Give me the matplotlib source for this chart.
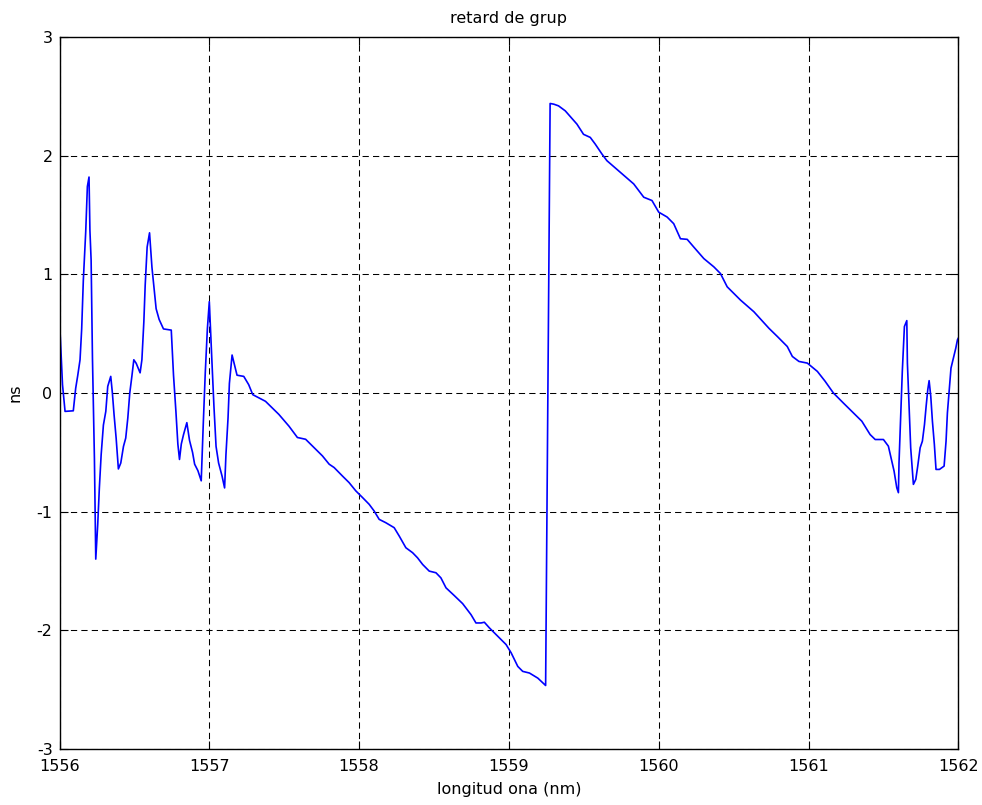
import matplotlib
matplotlib.use("Agg")
import matplotlib.pyplot as plt

# wavelength (nm) and group delay (ns)
wavelength_nm = [
    1556.000, 1556.010, 1556.020, 1556.037, 1556.092, 1556.108, 1556.122, 1556.137,
    1556.148, 1556.159, 1556.175, 1556.186, 1556.197, 1556.203, 1556.211, 1556.220,
    1556.233, 1556.242, 1556.255, 1556.266, 1556.278, 1556.293, 1556.309, 1556.322,
    1556.342, 1556.353, 1556.364, 1556.378, 1556.393, 1556.409, 1556.427, 1556.442,
    1556.456, 1556.469, 1556.483, 1556.496, 1556.512, 1556.538, 1556.550, 1556.563,
    1556.572, 1556.585, 1556.601, 1556.617, 1556.632, 1556.645, 1556.665, 1556.694,
    1556.746, 1556.761, 1556.777, 1556.790, 1556.801, 1556.813, 1556.828, 1556.850,
    1556.868, 1556.888, 1556.902, 1556.924, 1556.946, 1556.960, 1556.973, 1556.987,
    1557.000, 1557.007, 1557.018, 1557.031, 1557.045, 1557.062, 1557.085, 1557.102,
    1557.111, 1557.125, 1557.134, 1557.152, 1557.185, 1557.230, 1557.263, 1557.290,
    1557.375, 1557.464, 1557.532, 1557.588, 1557.643, 1557.699, 1557.755, 1557.800,
    1557.833, 1557.889, 1557.933, 1557.978, 1558.022, 1558.067, 1558.100, 1558.134,
    1558.178, 1558.234, 1558.268, 1558.312, 1558.357, 1558.390, 1558.424, 1558.468,
    1558.513, 1558.546, 1558.580, 1558.635, 1558.691, 1558.747, 1558.780, 1558.814,
    1558.836, 1558.870, 1558.925, 1558.981, 1559.015, 1559.059, 1559.092, 1559.137,
    1559.193, 1559.245, 1559.275, 1559.300, 1559.331, 1559.376, 1559.454, 1559.498,
    1559.543, 1559.576, 1559.621, 1559.654, 1559.744, 1559.833, 1559.900, 1559.955,
    1560.000, 1560.056, 1560.100, 1560.145, 1560.190, 1560.234, 1560.301, 1560.368,
    1560.412, 1560.457, 1560.546, 1560.635, 1560.736, 1560.792, 1560.858, 1560.892,
    1560.936, 1560.992, 1561.059, 1561.110, 1561.166, 1561.233, 1561.300, 1561.356,
    1561.411, 1561.445, 1561.500, 1561.533, 1561.556, 1561.571, 1561.589, 1561.600,
    1561.604, 1561.615, 1561.626, 1561.640, 1561.656, 1561.660, 1561.671, 1561.682,
    1561.700, 1561.716, 1561.729, 1561.745, 1561.760, 1561.774, 1561.785, 1561.796,
    1561.805, 1561.816, 1561.827, 1561.840, 1561.851, 1561.874, 1561.905, 1561.918,
    1561.927, 1561.940, 1561.951, 1561.967, 1561.983, 1561.994, 1562.000,
]
delay_ns = [
    0.62, 0.34, 0.07, -0.155, -0.15, 0.04, 0.15, 0.28,
    0.54, 0.95, 1.36, 1.74, 1.82, 1.37, 1.12, 0.29,
    -0.55, -1.40, -1.11, -0.80, -0.52, -0.27, -0.155, 0.056,
    0.14, 0.0, -0.18, -0.38, -0.64, -0.59, -0.45, -0.38,
    -0.21, 0.0, 0.14, 0.28, 0.25, 0.17, 0.28, 0.60,
    0.91, 1.23, 1.35, 1.06, 0.87, 0.71, 0.62, 0.54,
    0.53, 0.15, -0.155, -0.43, -0.56, -0.43, -0.35, -0.25,
    -0.40, -0.50, -0.60, -0.655, -0.74, -0.25, 0.17, 0.54,
    0.77, 0.56, 0.25, -0.115, -0.45, -0.59, -0.70, -0.80,
    -0.52, -0.21, 0.08, 0.32, 0.15, 0.14, 0.07, -0.014,
    -0.07, -0.18, -0.28, -0.375, -0.39, -0.46, -0.53, -0.60,
    -0.628, -0.70, -0.755, -0.825, -0.88, -0.938, -0.994, -1.065,
    -1.093, -1.135, -1.206, -1.304, -1.346, -1.389, -1.445, -1.501,
    -1.515, -1.558, -1.642, -1.707, -1.775, -1.868, -1.938, -1.938,
    -1.932, -1.98, -2.05, -2.12, -2.19, -2.304, -2.346, -2.36,
    -2.403, -2.465, 2.44, 2.434, 2.42, 2.378, 2.266, 2.18,
    2.154, 2.098, 2.014, 1.958, 1.86, 1.762, 1.65, 1.622,
    1.524, 1.483, 1.427, 1.30, 1.295, 1.23, 1.133, 1.063,
    1.007, 0.895, 0.783, 0.685, 0.545, 0.476, 0.392, 0.308,
    0.266, 0.252, 0.182, 0.10, 0.0, -0.085, -0.168, -0.238,
    -0.35, -0.392, -0.392, -0.448, -0.574, -0.658, -0.798, -0.84,
    -0.588, -0.196, 0.182, 0.56, 0.61, 0.252, -0.098, -0.462,
    -0.77, -0.728, -0.616, -0.462, -0.406, -0.266, -0.112, 0.028,
    0.104, -0.028, -0.238, -0.434, -0.644, -0.644, -0.616, -0.406,
    -0.168, 0.042, 0.21, 0.294, 0.378, 0.448, 0.462,
]

x_ticks = [1556, 1557, 1558, 1559, 1560, 1561, 1562]
y_ticks = [-3, -2, -1, 0, 1, 2, 3]

plt.rcParams['font.family'] = 'DejaVu Sans'
plt.rcParams['font.size'] = 11.5
plt.rcParams['axes.unicode_minus'] = False

fig = plt.figure(figsize=(9.82, 8.05), dpi=100)
ax = fig.add_axes([0.0606, 0.0696, 0.9153, 0.8844])

ax.plot(wavelength_nm, delay_ns, color='#0000ff', linewidth=1.2)

ax.set_xlim(1556, 1562)
ax.set_ylim(-3, 3)
ax.set_xticks(x_ticks)
ax.set_yticks(y_ticks)

# MATLAB-style dashed black grid
ax.grid(True, color='black', linestyle=(0, (6, 4)), linewidth=0.75)
ax.tick_params(direction='in', length=6, width=0.8, top=True, right=True,
               labelsize=11.5, pad=7)
ax.tick_params(axis='y', pad=5)
for spine in ax.spines.values():
    spine.set_linewidth(1.0)

ax.set_title('retard de grup', fontsize=11.5, pad=10)
ax.set_xlabel('longitud ona (nm)', fontsize=11.5, labelpad=6)
ax.set_ylabel('ns', fontsize=11.5, labelpad=10)

fig.savefig('out.png', dpi=100)
plt.close(fig)
